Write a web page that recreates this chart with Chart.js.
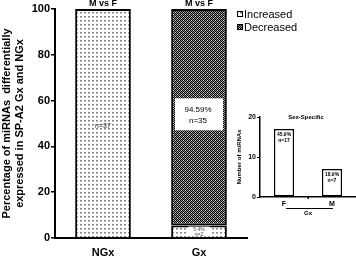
<!DOCTYPE html>
<html>
<head>
<meta charset="utf-8">
<script src="https://cdn.jsdelivr.net/npm/chart.js@4"></script>
<style>
  html, body { margin: 0; padding: 0; background: #fff; }
  #wrap { position: relative; width: 356px; height: 256px; }
  #main { position: absolute; left: 0; top: 0; }
  #inset { position: absolute; left: 236px; top: 108px; }
</style>
</head>
<body>
<div id="wrap">
  <canvas id="main" width="356" height="256"></canvas>
  <canvas id="inset" width="120" height="112"></canvas>
</div>
<script>
'use strict';

// --- data ---
const groups = ['NGx', 'Gx'];
const increased = [100, 5.41];
const decreased = [null, 94.59];
const incLabels = [['n=37'], ['5.4%', 'n=2']];
const decLabels = [null, ['94.59%', 'n=35']];
const topNotes = ['M vs F', 'M vs F'];
const legendNames = ['Increased', 'Decreased'];

const sexCats = ['F', 'M'];
const sexCounts = [17, 7];
const sexLabels = [['45.9%', 'n=17'], ['18.9%', 'n=7']];

const FONT = 'Liberation Sans, Arial, sans-serif';
Chart.defaults.font.family = FONT;
Chart.defaults.color = '#000';

// small tiled patterns like the original halftone fills
function mkPattern(draw, size) {
  const c = document.createElement('canvas');
  c.width = size; c.height = size;
  const g = c.getContext('2d');
  draw(g);
  return document.getElementById('main').getContext('2d').createPattern(c, 'repeat');
}
const lightFill = mkPattern(g => {
  g.fillStyle = '#fff'; g.fillRect(0, 0, 4, 4);
  g.fillStyle = '#888'; g.fillRect(0, 0, 2, 1);
  g.fillStyle = '#bbb'; g.fillRect(0, 1, 2, 1);
}, 4);
const darkFill = mkPattern(g => {
  g.fillStyle = '#888'; g.fillRect(0, 0, 4, 4);
  g.fillStyle = '#000';
  g.fillRect(0, 0, 1, 1); g.fillRect(2, 0, 1, 1);
  g.fillRect(1, 1, 1, 1); g.fillRect(3, 1, 1, 1);
  g.fillRect(0, 2, 1, 1); g.fillRect(2, 2, 1, 1);
  g.fillRect(1, 3, 1, 1); g.fillRect(3, 3, 1, 1);
  g.fillStyle = '#ddd';
  g.fillRect(3, 0, 1, 1); g.fillRect(1, 2, 1, 1);
}, 4);

// --- labels / legend drawn on top of the main chart ---
const mainDecor = {
  id: 'mainDecor',
  afterDatasetsDraw(chart) {
    const ctx = chart.ctx;
    ctx.save();
    ctx.textAlign = 'center';
    ctx.textBaseline = 'middle';
    const inc = chart.getDatasetMeta(0).data;
    const dec = chart.getDatasetMeta(1).data;

    // n=37 inside NGx
    ctx.fillStyle = '#333';
    ctx.font = '7px ' + FONT;
    ctx.fillText(incLabels[0][0], inc[0].x, (inc[0].y + inc[0].base) / 2 + 3);

    // small Gx increased segment labels
    const b = inc[1];
    ctx.fillStyle = '#fff';
    ctx.fillRect(b.x - 11, b.y + 1, 22, b.base - b.y - 2);
    ctx.fillStyle = '#444';
    ctx.font = '5px ' + FONT;
    ctx.fillText(incLabels[1][0], b.x, b.y + 4);
    ctx.fillText(incLabels[1][1], b.x, b.y + 9);

    // boxed label for decreased Gx
    const d = dec[1];
    const cy = (d.y + d.base) / 2 - 3;
    ctx.fillStyle = '#fff';
    ctx.fillRect(d.x - 24, cy - 16, 48, 32);
    ctx.fillStyle = '#000';
    ctx.font = '8px ' + FONT;
    ctx.fillText(decLabels[1][0], d.x - 1, cy - 5);
    ctx.fillText(decLabels[1][1], d.x - 1, cy + 6);

    // "M vs F" over each bar
    ctx.font = 'bold 9px ' + FONT;
    topNotes.forEach((t, i) => ctx.fillText(t, inc[i].x, 4));

    // legend
    ctx.textAlign = 'left';
    ctx.font = '11px ' + FONT;
    [lightFill, darkFill].forEach((p, i) => {
      const y = 14 + i * 13;
      ctx.fillStyle = '#000';
      ctx.fillRect(237, y - 3, 6, 6);
      ctx.fillStyle = p;
      ctx.fillRect(238, y - 2, 4, 4);
      ctx.fillStyle = '#000';
      ctx.fillText(legendNames[i], 244, y + 1);
    });
    ctx.restore();
  }
};

new Chart(document.getElementById('main'), {
  type: 'bar',
  data: {
    labels: groups,
    datasets: [
      {
        label: legendNames[0],
        data: increased,
        backgroundColor: lightFill,
        borderColor: '#000',
        borderWidth: 2,
        borderSkipped: 'bottom',
        barPercentage: 0.58,
        categoryPercentage: 1,
      },
      {
        label: legendNames[1],
        data: decreased,
        backgroundColor: darkFill,
        borderColor: '#000',
        borderWidth: 2,
        borderSkipped: false,
        barPercentage: 0.58,
        categoryPercentage: 1,
      },
    ],
  },
  options: {
    responsive: false,
    animation: false,
    layout: { padding: { left: 0, top: 9, right: 109, bottom: 0 } },
    plugins: { legend: { display: false }, tooltip: { enabled: false } },
    scales: {
      x: {
        stacked: true,
        grid: { display: false, drawTicks: false },
        border: { color: '#000', width: 2 },
        ticks: { font: { size: 11, weight: 'bold' }, padding: 8 },
        afterFit: s => { s.height = 18; },
      },
      y: {
        stacked: true,
        min: 0,
        max: 100,
        ticks: { stepSize: 20, font: { size: 11, weight: 'bold' }, padding: 1 },
        grid: { drawOnChartArea: false, tickLength: 4, color: '#000', lineWidth: 1.5 },
        border: { color: '#000', width: 2 },
        title: {
          display: true,
          text: ['Percentage of miRNAs  differentially', 'expressed in SP-A2 Gx and NGx'],
          font: { size: 11, weight: 'bold' },
          padding: 0,
        },
        afterFit: s => { s.width = 55; },
      },
    },
  },
  plugins: [mainDecor],
});

// --- inset: sex-specific counts ---
const insetDecor = {
  id: 'insetDecor',
  afterDatasetsDraw(chart) {
    const ctx = chart.ctx;
    const area = chart.chartArea;
    ctx.save();
    ctx.textAlign = 'center';
    ctx.textBaseline = 'middle';
    ctx.fillStyle = '#000';
    ctx.font = 'bold 6px ' + FONT;
    ctx.fillText('Sex-Specific', 70, 9);
    ctx.font = 'bold 5px ' + FONT;
    const bars = chart.getDatasetMeta(0).data;
    bars.forEach((bar, i) => {
      ctx.fillText(sexLabels[i][0], bar.x, bar.y + 6);
      ctx.fillText(sexLabels[i][1], bar.x, bar.y + 12);
    });
    // group bracket under F and M
    ctx.fillRect(bars[0].x + 2, area.bottom + 11, bars[1].x - bars[0].x - 1, 1);
    ctx.font = 'bold 6px ' + FONT;
    ctx.fillText('Gx', (bars[0].x + bars[1].x) / 2, area.bottom + 16);
    // middle tick
    const mid = (area.left + area.right) / 2;
    ctx.fillRect(mid - 0.5, area.bottom - 1, 1.5, 3);
    ctx.restore();
  }
};

new Chart(document.getElementById('inset'), {
  type: 'bar',
  data: {
    labels: sexCats,
    datasets: [{
      label: 'Number of miRNAs',
      data: sexCounts,
      backgroundColor: '#fff',
      borderColor: '#000',
      borderWidth: 1.5,
      borderSkipped: false,
      barPercentage: 0.42,
      categoryPercentage: 1,
    }],
  },
  options: {
    responsive: false,
    animation: false,
    layout: { padding: { left: 0, top: 9, right: 0, bottom: 0 } },
    plugins: { legend: { display: false }, tooltip: { enabled: false } },
    scales: {
      x: {
        grid: { display: false, drawTicks: false },
        border: { color: '#000', width: 1.5 },
        ticks: { font: { size: 7, weight: 'bold' }, padding: 3 },
        afterFit: s => { s.height = 23; },
      },
      y: {
        min: 0,
        max: 20,
        ticks: { stepSize: 10, font: { size: 7, weight: 'bold' }, padding: 1 },
        grid: { drawOnChartArea: false, tickLength: 3, color: '#000' },
        border: { color: '#000', width: 1.5 },
        title: {
          display: true,
          text: 'Number of miRNAs',
          font: { size: 6, weight: 'bold' },
          padding: 0,
        },
        afterFit: s => { s.width = 24; },
      },
    },
  },
  plugins: [insetDecor],
});
</script>
</body>
</html>
